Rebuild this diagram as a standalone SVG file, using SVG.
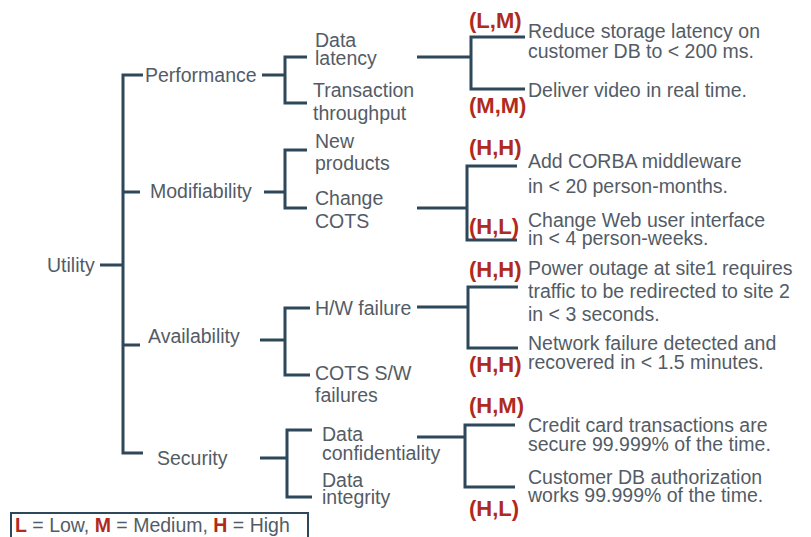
<svg xmlns="http://www.w3.org/2000/svg" width="811" height="537" viewBox="0 0 811 537">
<style>
.t{font-family:"Liberation Sans",Arial,sans-serif;font-size:19.5px;fill:#535c66}
.r{font-family:"Liberation Sans",Arial,sans-serif;font-size:22px;font-weight:bold;fill:#b02a1e}
.c{fill:none;stroke:#2d475b;stroke-width:3}
</style>
<rect width="811" height="537" fill="#ffffff"/>
<g id="connectors">
<path class="c" d="M143,75 H123 V453 H143 M100,265 H123 M123,192 H140 M123,345 H140"/>
<path class="c" d="M262,75 H285 M307,57 H285 V103 H307"/>
<path class="c" d="M264,192 H285 M307,150 H285 V208 H307"/>
<path class="c" d="M260,340 H285 M310,308 H285 V375 H310"/>
<path class="c" d="M260,458 H287 M312,430 H287 V497 H312"/>
<path class="c" d="M417,57 H471 M525,37 H471 V89 H525"/>
<path class="c" d="M417,208 H467 M517,166 H467 V240 H517"/>
<path class="c" d="M417,307 H468 M518,287 H468 V348 H518"/>
<path class="c" d="M417,437 H465 M515,425 H465 V487 H515"/>
</g>
<g id="utility"><text class="t" x="47" y="272">Utility</text></g>
<g id="performance"><text class="t" x="145" y="82">Performance</text></g>
<g id="modifiability"><text class="t" x="150" y="198">Modifiability</text></g>
<g id="availability"><text class="t" x="148" y="343">Availability</text></g>
<g id="security"><text class="t" x="157" y="465">Security</text></g>
<g id="data-latency"><text class="t" x="315" y="47">Data</text><text class="t" x="315" y="65">latency</text></g>
<g id="transaction-throughput"><text class="t" x="313" y="97">Transaction</text><text class="t" x="313" y="120">throughput</text></g>
<g id="new-products"><text class="t" x="315" y="148">New</text><text class="t" x="315" y="170">products</text></g>
<g id="change-cots"><text class="t" x="315" y="205">Change</text><text class="t" x="315" y="228">COTS</text></g>
<g id="hw-failure"><text class="t" x="315" y="315">H/W failure</text></g>
<g id="cots-sw-failures"><text class="t" x="315" y="380">COTS S/W</text><text class="t" x="315" y="402">failures</text></g>
<g id="data-confidentiality"><text class="t" x="322" y="441">Data</text><text class="t" x="322" y="460">confidentiality</text></g>
<g id="data-integrity"><text class="t" x="322" y="487">Data</text><text class="t" x="322" y="504">integrity</text></g>
<g id="s1"><text class="r" x="469" y="28">(L,M)</text><text class="t" x="528" y="38">Reduce storage latency on</text><text class="t" x="528" y="58">customer DB to &lt; 200 ms.</text></g>
<g id="s2"><text class="t" x="528" y="97">Deliver video in real time.</text><text class="r" x="469" y="113">(M,M)</text></g>
<g id="s3"><text class="r" x="469" y="155">(H,H)</text><text class="t" x="528" y="168">Add CORBA middleware</text><text class="t" x="528" y="193">in &lt; 20 person-months.</text></g>
<g id="s4"><text class="r" x="469" y="234">(H,L)</text><text class="t" x="528" y="227">Change Web user interface</text><text class="t" x="528" y="245">in &lt; 4 person-weeks.</text></g>
<g id="s5"><text class="r" x="469" y="277">(H,H)</text><text class="t" x="528" y="275">Power outage at site1 requires</text><text class="t" x="528" y="298">traffic to be redirected to site 2</text><text class="t" x="528" y="321">in &lt; 3 seconds.</text></g>
<g id="s6"><text class="t" x="528" y="350">Network failure detected and</text><text class="r" x="469" y="372">(H,H)</text><text class="t" x="528" y="369">recovered in &lt; 1.5 minutes.</text></g>
<g id="s7"><text class="r" x="469" y="413">(H,M)</text><text class="t" x="528" y="432">Credit card transactions are</text><text class="t" x="528" y="451">secure 99.999% of the time.</text></g>
<g id="s8"><text class="t" x="528" y="484">Customer DB authorization</text><text class="t" x="528" y="502">works 99.999% of the time.</text><text class="r" x="469" y="516">(H,L)</text></g>
<g id="legend">
<rect x="11" y="513" width="297" height="30" fill="none" stroke="#2d475b" stroke-width="2"/>
<text class="t" x="15" y="532"><tspan class="r" style="font-size:19.5px">L</tspan> = Low, <tspan class="r" style="font-size:19.5px">M</tspan> = Medium,  <tspan class="r" style="font-size:19.5px">H</tspan> = High</text>
</g>
</svg>
